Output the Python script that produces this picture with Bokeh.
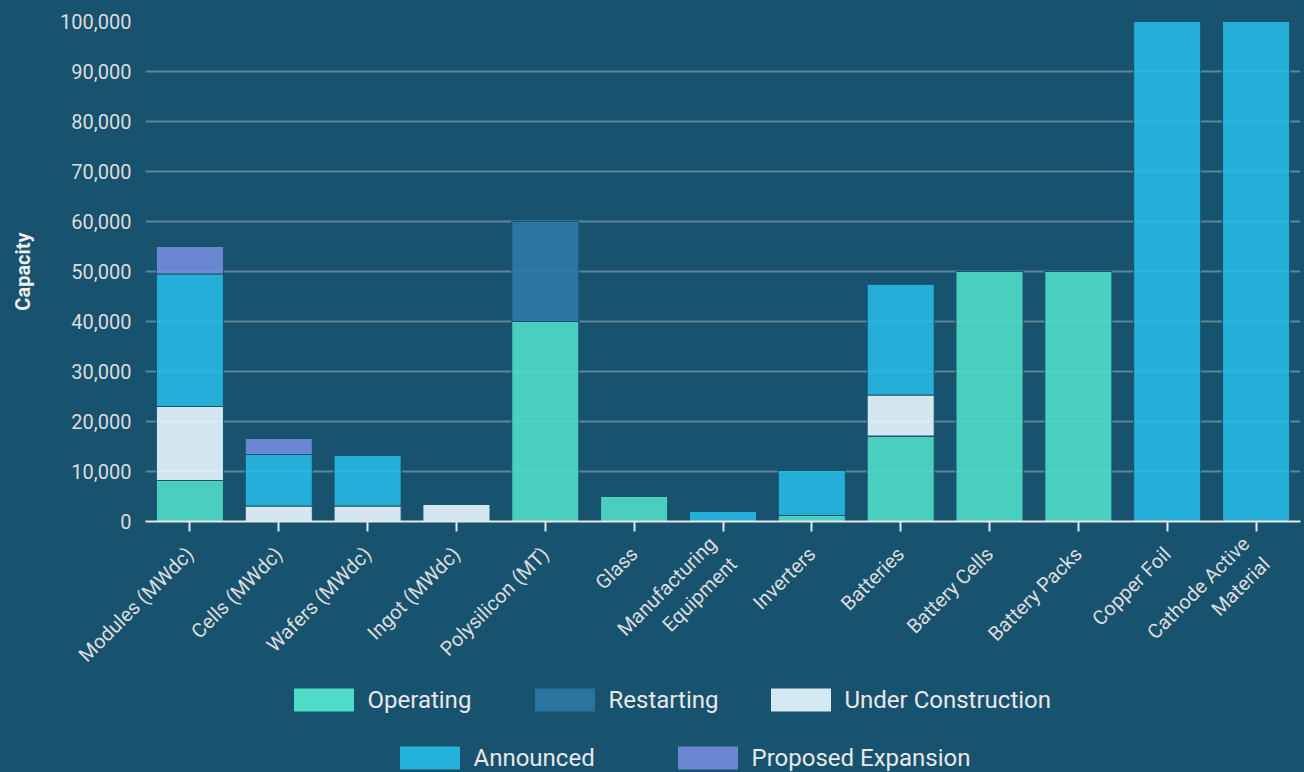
import math
from bokeh.plotting import figure
from bokeh.layouts import column
from bokeh.models import Legend, LegendItem, NumeralTickFormatter, FixedTicker, ColumnDataSource
from bokeh.embed import file_html
from bokeh.resources import INLINE

categories = ["Modules (MWdc)", "Cells (MWdc)", "Wafers (MWdc)", "Ingot (MWdc)",
              "Polysilicon (MT)", "Glass", "Manufacturing\nEquipment", "Inverters",
              "Batteries", "Battery Cells", "Battery Packs", "Copper Foil",
              "Cathode Active\nMaterial"]
operating = [8200, 0, 0, 0, 40000, 5000, 0, 1200, 17100, 50000, 50000, 0, 0]
restarting = [0, 0, 0, 0, 20000, 0, 0, 0, 0, 0, 0, 0, 0]
under_construction = [14800, 3100, 3100, 3500, 0, 0, 0, 0, 8200, 0, 0, 0, 0]
announced = [26500, 10300, 10100, 0, 0, 0, 2000, 9000, 22200, 0, 0, 100000, 100000]
proposed = [5500, 3200, 0, 0, 0, 0, 0, 0, 0, 0, 0, 0, 0]
series_names = ["Operating", "Restarting", "Under Construction", "Announced", "Proposed Expansion"]
y_ticks = [0, 10000, 20000, 30000, 40000, 50000, 60000, 70000, 80000, 90000, 100000]

BG = "#17526e"
bar_colors = ["#50dcc8", "#2c7aa5", "#e9f7fe", "#27b9e3", "#738edc"]
legend_colors = ["#50dcc8", "#2a75a0", "#d5e9f3", "#24b2da", "#6a88d2"]
FONT = "Roboto"

keys = ["operating", "restarting", "under_construction", "announced", "proposed"]
source = ColumnDataSource(dict(cat=categories, operating=operating, restarting=restarting,
                               under_construction=under_construction, announced=announced,
                               proposed=proposed))

p = figure(x_range=categories, y_range=(0, 100000), width=1304, height=686,
           output_backend="svg", toolbar_location=None,
           min_border_left=145, min_border_right=4, min_border_top=21, min_border_bottom=165,
           background_fill_color=BG, border_fill_color=BG, outline_line_color=None)

p.vbar_stack(keys, x="cat", width=0.755, source=source, fill_color=bar_colors,
             fill_alpha=0.9, line_color=BG, line_width=1)

p.xgrid.grid_line_color = None
p.ygrid.grid_line_color = "white"
p.ygrid.grid_line_alpha = 0.3
p.ygrid.grid_line_width = 2
p.ygrid.ticker = FixedTicker(ticks=y_ticks)

xa = p.xaxis[0]
xa.major_label_orientation = math.pi / 4
xa.major_label_text_font = FONT
xa.major_label_text_font_size = "20px"
xa.major_label_text_color = "#dddddd"
xa.axis_line_color = "#e6e6e6"
xa.axis_line_width = 2
xa.major_tick_line_color = "#e6e6e6"
xa.major_tick_line_width = 2
xa.major_tick_out = 10
xa.major_tick_in = 0
xa.major_label_standoff = 19

ya = p.yaxis[0]
ya.ticker = FixedTicker(ticks=y_ticks)
ya.formatter = NumeralTickFormatter(format="0,0")
ya.axis_line_color = None
ya.major_tick_line_color = None
ya.minor_tick_line_color = None
ya.major_label_text_font = FONT
ya.major_label_text_font_size = "20px"
ya.major_label_text_color = "#dddddd"
ya.major_label_standoff = 8
ya.axis_label = "Capacity"
ya.axis_label_text_font = FONT
ya.axis_label_text_font_size = "20px"
ya.axis_label_text_font_style = "bold"
ya.axis_label_text_color = "#eeeeee"
ya.axis_label_standoff = 22

# legend area as its own figure
lf = figure(width=1304, height=86, x_range=(0, 1), y_range=(0, 1),
            output_backend="svg", toolbar_location=None,
            x_axis_location=None, y_axis_location=None, min_border=0,
            background_fill_color=BG, border_fill_color=BG, outline_line_color=None)
lf.grid.grid_line_color = None
dummies = []
for c in legend_colors:
    # data lies outside the visible range: only the legend swatch shows
    r = lf.rect(x=[-5], y=[-5], width=0.1, height=0.1, fill_color=c, line_color=None)
    dummies.append(r)

legend_locs = [(140.5, 58), (381.5, 58), (617.5, 58), (246.5, 0), (524.5, 0)]
for i, loc in enumerate(legend_locs):
    lg = Legend(items=[LegendItem(label=series_names[i], renderers=[dummies[i]])],
                orientation="horizontal", location=loc,
                background_fill_alpha=0, border_line_color=None,
                glyph_width=75, glyph_height=29, label_standoff=7,
                padding=0, margin=0,
                label_text_font=FONT, label_text_font_size="24px",
                label_text_color="#e8e8e8")
    lf.add_layout(lg, "center")

layout = column(p, lf, spacing=0)
html = file_html(layout, INLINE)
html = html.replace("<head>", "<head><style>html,body{background:%s;margin:0;}</style>" % BG, 1)
open("out.html", "w").write(html)
